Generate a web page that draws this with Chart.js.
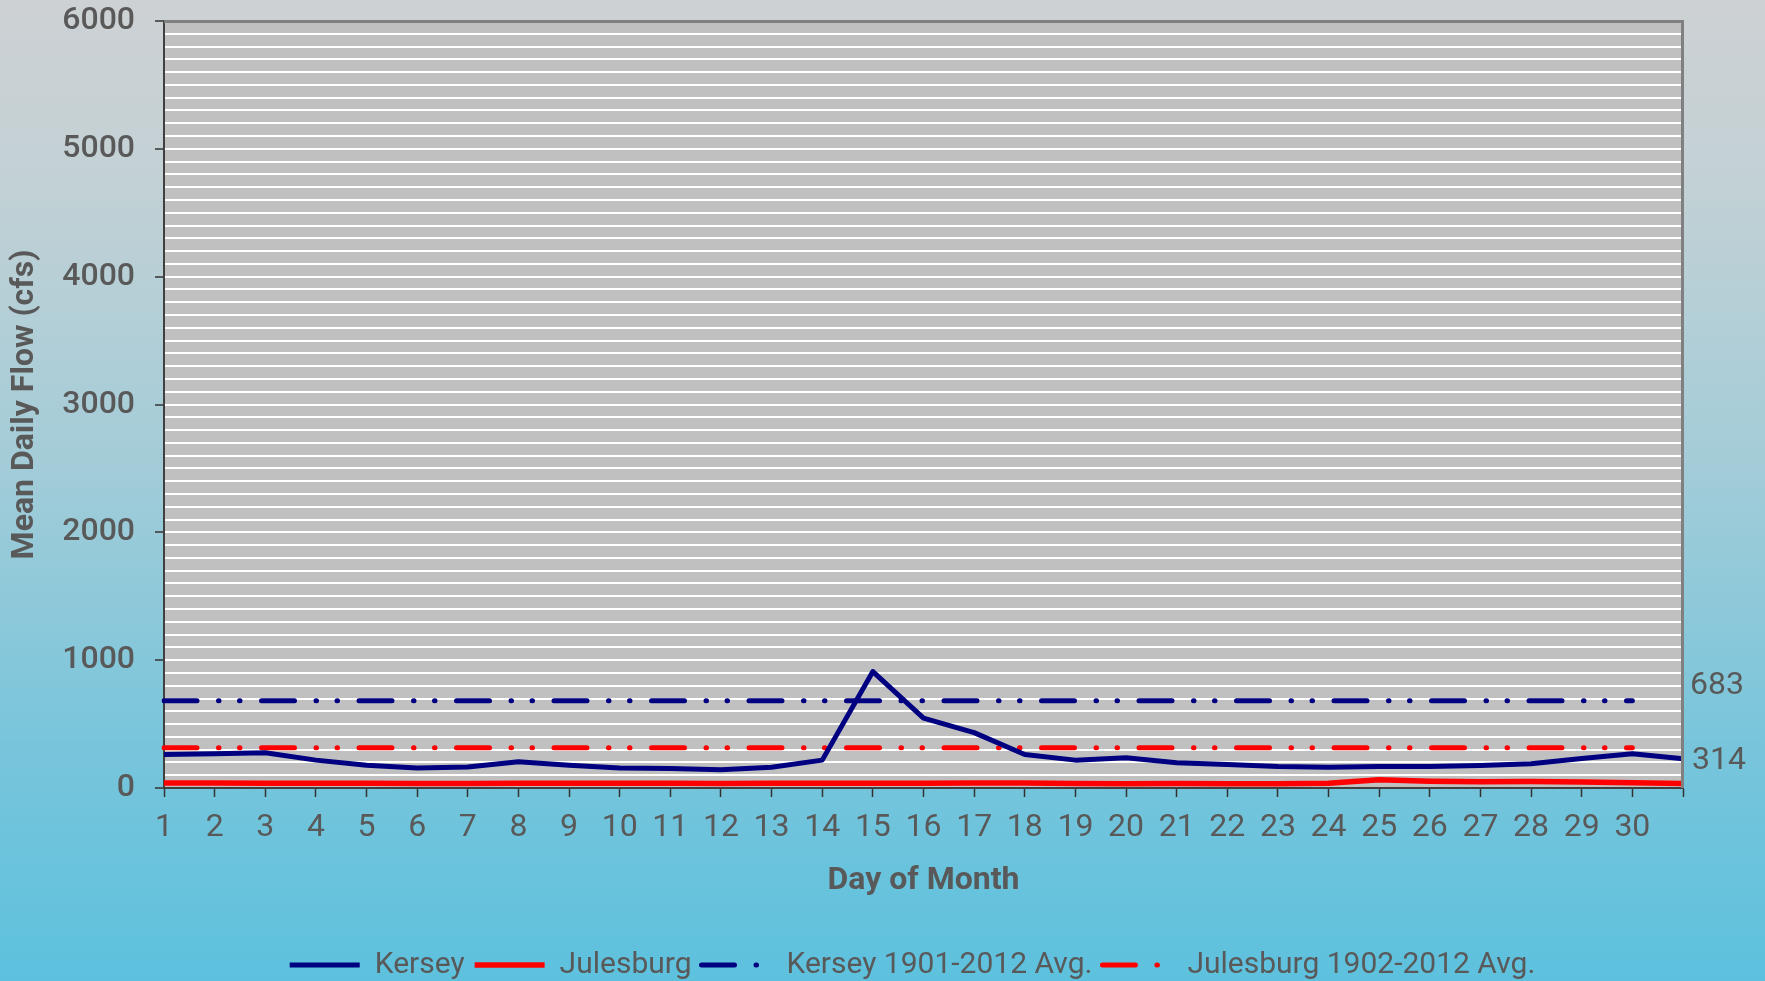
<!DOCTYPE html>
<html><head><meta charset="utf-8">
<script src="https://cdn.jsdelivr.net/npm/chart.js@4.4.1/dist/chart.umd.min.js"></script>
<style>
html,body{margin:0;padding:0;width:1765px;height:981px;overflow:hidden;
background:linear-gradient(to bottom,#CDD1D4 0%,#C3D1D5 18%,#A2CCD8 48%,#78C5DB 76%,#5DC1DE 100%);}
#wrap{position:relative;width:1765px;height:981px;}
</style></head><body><div id="wrap"><canvas id="c"></canvas></div>
<script>
// Tick labels for the 31 day positions (last position unlabeled)
const dayLabels = ['1','2','3','4','5','6','7','8','9','10','11','12','13','14','15','16','17','18','19','20','21','22','23','24','25','26','27','28','29','30',''];
// Mean daily flow (cfs)
const kersey = [262, 268, 276, 218, 178, 157, 165, 205, 178, 157, 152, 142, 163, 218, 911, 546, 433, 262, 218, 236, 197, 184, 168, 163, 168, 168, 176, 189, 231, 268, 228];
const julesburg = [40, 39, 38, 37, 37, 36, 36, 37, 37, 37, 37, 36, 37, 38, 38, 38, 39, 39, 35, 34, 35, 34, 33, 38, 64, 52, 48, 50, 47, 42, 36];
// Long-term averages and the day span they are drawn over
const kerseyAvg = 683;
const julesburgAvg = 314;
const avgSpan = ['1', '30'];

const navy = '#000080', red = '#FF0000', textGrey = '#595959';
const avgDash = [33, 21.5, 0.5, 20.5, 0.5, 21.5];

const plotBg = {
  id: 'plotBg',
  afterLayout(chart) {
    const lg = chart.legend;
    if (lg) { lg.left += 71; lg.right += 71; lg.top += 9; lg.bottom += 9; }
  },
  beforeDraw(chart) {
    const {ctx, chartArea: a} = chart;
    ctx.save();
    ctx.fillStyle = '#C0C0C0';
    ctx.fillRect(a.left, a.top, a.right - a.left, a.bottom - a.top);
    ctx.restore();
  },
  afterDatasetsDraw(chart) {
    const {ctx, chartArea: a} = chart;
    ctx.save();
    ctx.strokeStyle = '#808080';
    ctx.lineWidth = 3;
    ctx.beginPath();
    ctx.moveTo(a.left, a.top + 0.5);
    ctx.lineTo(a.right - 0.5, a.top + 0.5);
    ctx.lineTo(a.right - 0.5, a.bottom);
    ctx.stroke();
    ctx.restore();
  }
};

const avgLabels = {
  id: 'avgLabels',
  afterDraw(chart) {
    const {ctx, chartArea: a} = chart;
    const y = chart.scales.y;
    ctx.save();
    ctx.font = '32px Roboto';
    ctx.fillStyle = textGrey;
    ctx.textAlign = 'left';
    ctx.textBaseline = 'middle';
    ctx.fillText(String(kerseyAvg), a.right + 7, y.getPixelForValue(kerseyAvg) - 15);
    ctx.fillText(String(julesburgAvg), a.right + 9, y.getPixelForValue(julesburgAvg) + 13);
    ctx.restore();
  }
};

new Chart(document.getElementById('c'), {
  type: 'line',
  data: {
    labels: dayLabels,
    datasets: [
      {label: 'Kersey', data: kersey, borderColor: navy, backgroundColor: navy, borderWidth: 5, pointRadius: 0, tension: 0, borderJoinStyle: 'round'},
      {label: 'Julesburg', data: julesburg, borderColor: red, backgroundColor: red, borderWidth: 5.5, pointRadius: 0, tension: 0, borderJoinStyle: 'round'},
      {label: 'Kersey 1901-2012 Avg.', data: avgSpan.map(d => ({x: d, y: kerseyAvg})), borderColor: navy, backgroundColor: navy, borderWidth: 5, pointRadius: 0, borderDash: avgDash, borderCapStyle: 'round'},
      {label: 'Julesburg 1902-2012 Avg.', data: avgSpan.map(d => ({x: d, y: julesburgAvg})), borderColor: red, backgroundColor: red, borderWidth: 5, pointRadius: 0, borderDash: avgDash, borderCapStyle: 'round'}
    ]
  },
  options: {
    responsive: true,
    maintainAspectRatio: false,
    animation: false,
    devicePixelRatio: 1,
    layout: {padding: {top: 21, right: 82, left: 0, bottom: 0}},
    plugins: {
      tooltip: {enabled: false},
      legend: {
        position: 'bottom',
        labels: {
          usePointStyle: true,
          pointStyle: 'line',
          pointStyleWidth: 70,
          padding: 10,
          color: textGrey,
          font: {family: 'Roboto', size: 30},
          generateLabels: chart => chart.data.datasets.map((ds, i) => ({
            text: ds.label,
            strokeStyle: ds.borderColor,
            fillStyle: ds.borderColor,
            lineWidth: ds.borderWidth,
            lineDash: ds.borderDash || [],
            lineCap: ds.borderCapStyle || 'butt',
            pointStyle: 'line',
            fontColor: textGrey,
            hidden: false,
            datasetIndex: i
          }))
        }
      }
    },
    scales: {
      x: {
        type: 'category',
        offset: false,
        grid: {display: true, drawOnChartArea: false, drawTicks: true, tickLength: 9, tickColor: '#333333', tickWidth: 1.5},
        border: {display: true, color: '#404040', width: 2},
        ticks: {autoSkip: false, maxRotation: 0, minRotation: 0, padding: 12, color: textGrey, font: {family: 'Roboto', size: 32}},
        title: {display: true, text: 'Day of Month', color: textGrey, font: {family: 'Roboto', size: 32, weight: 'bold'}, padding: {top: 0, bottom: 31}},
        afterFit: s => { s.height = 143; s.paddingLeft = 0; s.paddingRight = 0; }
      },
      y: {
        min: 0,
        max: 6000,
        ticks: {
          stepSize: 100,
          autoSkip: false,
          padding: 20,
          color: textGrey,
          font: {family: 'Roboto', size: 32, weight: '500'},
          callback: v => (v % 1000 === 0 ? String(v) : '')
        },
        grid: {
          color: '#FFFFFF',
          lineWidth: 2,
          drawTicks: true,
          tickLength: 9,
          tickWidth: 1.5,
          tickColor: c => (c.tick && c.tick.value % 1000 === 0 ? '#333333' : 'rgba(0,0,0,0)')
        },
        border: {display: true, color: '#404040', width: 2},
        title: {display: true, text: 'Mean Daily Flow (cfs)', color: textGrey, font: {family: 'Roboto', size: 32, weight: 'bold'}, padding: {top: 6, bottom: 0}},
        afterFit: s => { s.width = 164; s.paddingTop = 0; s.paddingBottom = 0; }
      }
    }
  },
  plugins: [plotBg, avgLabels]
});
</script></body></html>
